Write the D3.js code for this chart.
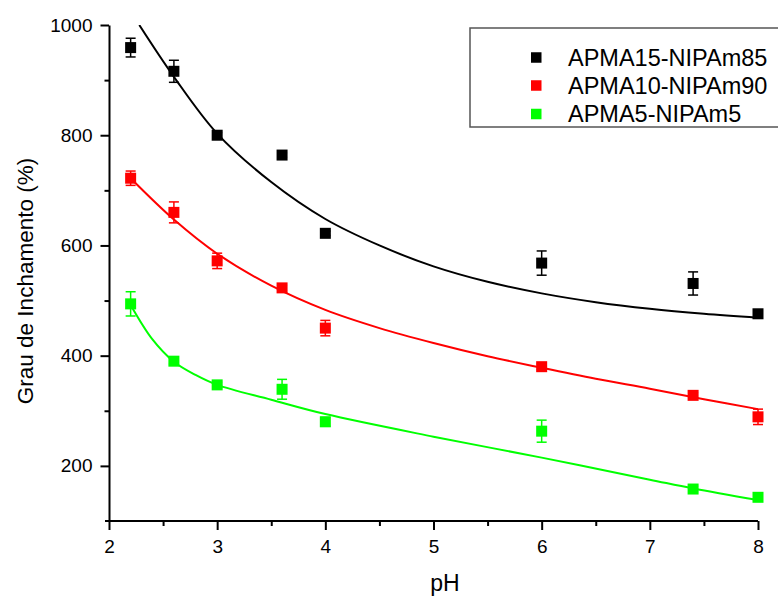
<!DOCTYPE html>
<html>
<head>
<meta charset="utf-8">
<script src="https://cdn.jsdelivr.net/npm/d3@7"></script>
<style>
  body { margin: 0; background: #fff; }
  svg { display: block; font-family: Arial, "Liberation Sans", sans-serif; }
</style>
</head>
<body>
<div id="chart"></div>
<script>
// measured points (pH vs swelling degree)
var pH = [2.2, 2.6, 3.0, 3.6, 4.0, 6.0, 7.4, 8.0];
var apma15 = [959, 916, 800, 764, 622, 568, 531, 476];
var apma15Err = [17, 20, 5, 4, 4, 22, 21, 4];
var apma10 = [722, 660, 572, 523, 450, 380, 328, 289];
var apma10Err = [13, 19, 14, 5, 14, 5, 5, 14];
var apma5 = [494, 390, 347, 339, 280, 263, 158, 143];
var apma5Err = [22, 5, 5, 18, 8, 20, 5, 5];

// fitted curves
var fitPH15 = [2.28, 2.6, 3.0, 3.5, 4.0, 4.5, 5.0, 5.5, 6.0, 6.5, 7.0, 7.5, 8.0];
var fit15 = [1000, 906, 803, 715, 648, 600, 562, 534, 513, 497, 485, 476, 469];
var fitPH10 = [2.2, 2.6, 3.0, 3.5, 4.0, 4.5, 5.0, 5.5, 6.0, 6.5, 7.0, 7.5, 8.0];
var fit10 = [722, 647, 585, 527, 483, 450, 423, 399, 378, 358, 340, 321, 303];
var fitPH5 = [2.2, 2.4, 2.6, 2.8, 3.0, 3.5, 4.0, 5.0, 6.0, 7.0, 7.4, 8.0];
var fit5 = [492, 430, 389, 365, 347, 320, 294, 253, 215, 175, 159, 138];

var seriesNames = ["APMA15-NIPAm85", "APMA10-NIPAm90", "APMA5-NIPAm5"];
var seriesColors = ["#000000", "#ff0000", "#00ff00"];

var xTicks = [2, 3, 4, 5, 6, 7, 8];
var yTicks = [200, 400, 600, 800, 1000];

var W = 778, H = 596;
var margin = {top: 25, right: 20, bottom: 75, left: 109};
var width = 758 - margin.left,
    height = 521 - margin.top;

var svg = d3.select("#chart").append("svg")
    .attr("width", W)
    .attr("height", H);

var g = svg.append("g").attr("transform", "translate(" + margin.left + "," + margin.top + ")");

var x = d3.scaleLinear().domain([2, 8]).range([0, width]);
var y = d3.scaleLinear().domain([100, 1000]).range([height, 0]);

g.append("clipPath").attr("id", "clip")
  .append("rect").attr("x", 0).attr("y", 0).attr("width", width + 10).attr("height", height);

var series = [
  {pts: apma15, err: apma15Err, fx: fitPH15, fy: fit15},
  {pts: apma10, err: apma10Err, fx: fitPH10, fy: fit10},
  {pts: apma5, err: apma5Err, fx: fitPH5, fy: fit5}
];

var line = d3.line()
    .x(function(d){ return x(d[0]); })
    .y(function(d){ return y(d[1]); })
    .curve(d3.curveCatmullRom.alpha(0.5));

// minor ticks
g.append("g").attr("transform", "translate(0," + height + ")")
  .call(d3.axisBottom(x).tickValues([2.5, 3.5, 4.5, 5.5, 6.5, 7.5]).tickSize(5).tickFormat(""))
  .call(function(a){ a.select(".domain").remove(); a.selectAll("line").attr("stroke-width", 2); });
g.append("g")
  .call(d3.axisLeft(y).tickValues([300, 500, 700, 900]).tickSize(4.5).tickFormat(""))
  .call(function(a){ a.select(".domain").remove(); a.selectAll("line").attr("stroke-width", 2); });

// major axes
var xAxis = g.append("g").attr("transform", "translate(0," + height + ")")
  .call(d3.axisBottom(x).tickValues(xTicks).tickFormat(d3.format("d")).tickSize(9).tickSizeOuter(0).tickPadding(10));
var yAxis = g.append("g")
  .call(d3.axisLeft(y).tickValues(yTicks).tickFormat(d3.format("d")).tickSize(8.5).tickSizeOuter(0).tickPadding(8));

[xAxis, yAxis].forEach(function(a){
  a.select(".domain").attr("stroke-width", 2);
  a.selectAll(".tick line").attr("stroke-width", 2);
  a.selectAll(".tick text").attr("font-size", 19).attr("fill", "#000").attr("font-family", "Arial, 'Liberation Sans', sans-serif");
});
xAxis.select(".domain").attr("d", "M-4,0H" + width);

// curves
series.forEach(function(s, i){
  g.append("path")
    .datum(s.fx.map(function(v, j){ return [v, s.fy[j]]; }))
    .attr("clip-path", "url(#clip)")
    .attr("fill", "none")
    .attr("stroke", seriesColors[i])
    .attr("stroke-width", 2)
    .attr("d", line);
});

// error bars and markers
series.forEach(function(s, i){
  var grp = g.append("g");
  var data = pH.map(function(p, j){ return {x: p, y: s.pts[j], e: s.err[j]}; });
  var eb = grp.selectAll(".eb").data(data).enter().append("g").attr("stroke", seriesColors[i]).attr("stroke-width", 1.5);
  eb.append("line")
    .attr("x1", function(d){ return x(d.x); }).attr("x2", function(d){ return x(d.x); })
    .attr("y1", function(d){ return y(d.y - d.e); }).attr("y2", function(d){ return y(d.y + d.e); });
  eb.append("line")
    .attr("x1", function(d){ return x(d.x) - 5; }).attr("x2", function(d){ return x(d.x) + 5; })
    .attr("y1", function(d){ return y(d.y + d.e); }).attr("y2", function(d){ return y(d.y + d.e); });
  eb.append("line")
    .attr("x1", function(d){ return x(d.x) - 5; }).attr("x2", function(d){ return x(d.x) + 5; })
    .attr("y1", function(d){ return y(d.y - d.e); }).attr("y2", function(d){ return y(d.y - d.e); });
  grp.selectAll("rect").data(data).enter().append("rect")
    .attr("x", function(d){ return x(d.x) - 5.5; })
    .attr("y", function(d){ return y(d.y) - 5.5; })
    .attr("width", 11).attr("height", 11)
    .attr("fill", seriesColors[i]);
});

// axis titles
svg.append("text")
  .attr("x", 445).attr("y", 591)
  .attr("text-anchor", "middle")
  .attr("font-size", 23)
  .text("pH");
svg.append("text")
  .attr("transform", "translate(33,281) rotate(-90)")
  .attr("text-anchor", "middle")
  .attr("font-size", 22.5)
  .text("Grau de Inchamento (%)");

// legend
var leg = svg.append("g");
leg.append("rect")
  .attr("x", 470).attr("y", 28).attr("width", 330).attr("height", 99)
  .attr("fill", "#fff").attr("stroke", "#555").attr("stroke-width", 1.5);
var legY = [57.5, 85.5, 114];
seriesNames.forEach(function(name, i){
  leg.append("rect")
    .attr("x", 531).attr("y", legY[i] - 5.25)
    .attr("width", 10.5).attr("height", 10.5)
    .attr("fill", seriesColors[i]);
  leg.append("text")
    .attr("x", 568).attr("y", legY[i] + 8)
    .attr("font-size", 23.5)
    .text(name);
});
</script>
</body>
</html>
